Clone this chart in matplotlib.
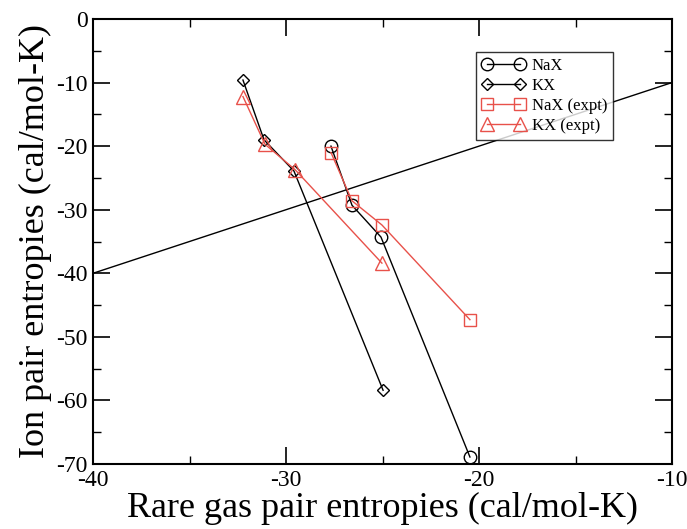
import matplotlib
matplotlib.use("Agg")
import matplotlib.pyplot as plt
from matplotlib.ticker import MultipleLocator

plt.rcParams["font.family"] = ["Liberation Serif", "DejaVu Serif"]
plt.rcParams["axes.unicode_minus"] = False

# Rare gas pair entropies (x) vs ion pair entropies (y), cal/mol-K
nax_x = [-27.67, -26.58, -25.08, -20.47]
nax_y = [-20.0, -29.3, -34.3, -68.9]
kx_x = [-32.23, -31.14, -29.59, -24.97]
kx_y = [-9.6, -19.0, -23.9, -58.4]
nax_expt_x = [-27.67, -26.58, -25.03, -20.47]
nax_expt_y = [-21.0, -28.6, -32.4, -47.3]
kx_expt_x = [-32.23, -31.09, -29.53, -25.03]
kx_expt_y = [-12.2, -19.7, -23.7, -38.4]
diag = [-40, -10]

red = "#e8514a"

fig = plt.figure(figsize=(6.87, 5.29), dpi=100)
ax = fig.add_axes([93 / 687, 1 - 464 / 529, 579 / 687, 445 / 529])

ax.plot(diag, diag, color="black", lw=1.0)
ax.plot(nax_x, nax_y, "o-", color="black", lw=1.0, ms=9,
        mfc="none", mec="black", label="NaX")
ax.plot(kx_x, kx_y, "D-", color="black", lw=1.0, ms=6.5,
        mfc="none", mec="black", label="KX")
ax.plot(nax_expt_x, nax_expt_y, "s-", color=red, lw=1.0, ms=8.5,
        mfc="none", mec=red, label="NaX (expt)")
ax.plot(kx_expt_x, kx_expt_y, "^-", color=red, lw=1.0, ms=9.5,
        mfc="none", mec=red, label="KX (expt)")

ax.set_xlim(-40, -10)
ax.set_ylim(-70, 0)
ax.xaxis.set_major_locator(MultipleLocator(10))
ax.xaxis.set_minor_locator(MultipleLocator(5))
ax.yaxis.set_major_locator(MultipleLocator(10))
ax.yaxis.set_minor_locator(MultipleLocator(5))
ax.tick_params(which="both", direction="in", top=True, right=True, labelsize=17)
ax.tick_params(which="major", length=12, width=1.2, pad=4)
ax.tick_params(which="minor", length=6, width=1.0)
for s in ax.spines.values():
    s.set_linewidth(1.5)

ax.set_xlabel("Rare gas pair entropies (cal/mol-K)", fontsize=26, labelpad=1)
ax.set_ylabel("Ion pair entropies (cal/mol-K)", fontsize=26, labelpad=3)

leg = ax.legend(loc="upper right", bbox_to_anchor=(0.898, 0.926), fontsize=12,
                frameon=True, fancybox=False, edgecolor="black",
                numpoints=2, handlelength=2.6, handletextpad=0.4,
                borderpad=0.35, labelspacing=0.25, borderaxespad=0)
leg.get_frame().set_linewidth(1.0)

fig.savefig("out.png", dpi=100)
